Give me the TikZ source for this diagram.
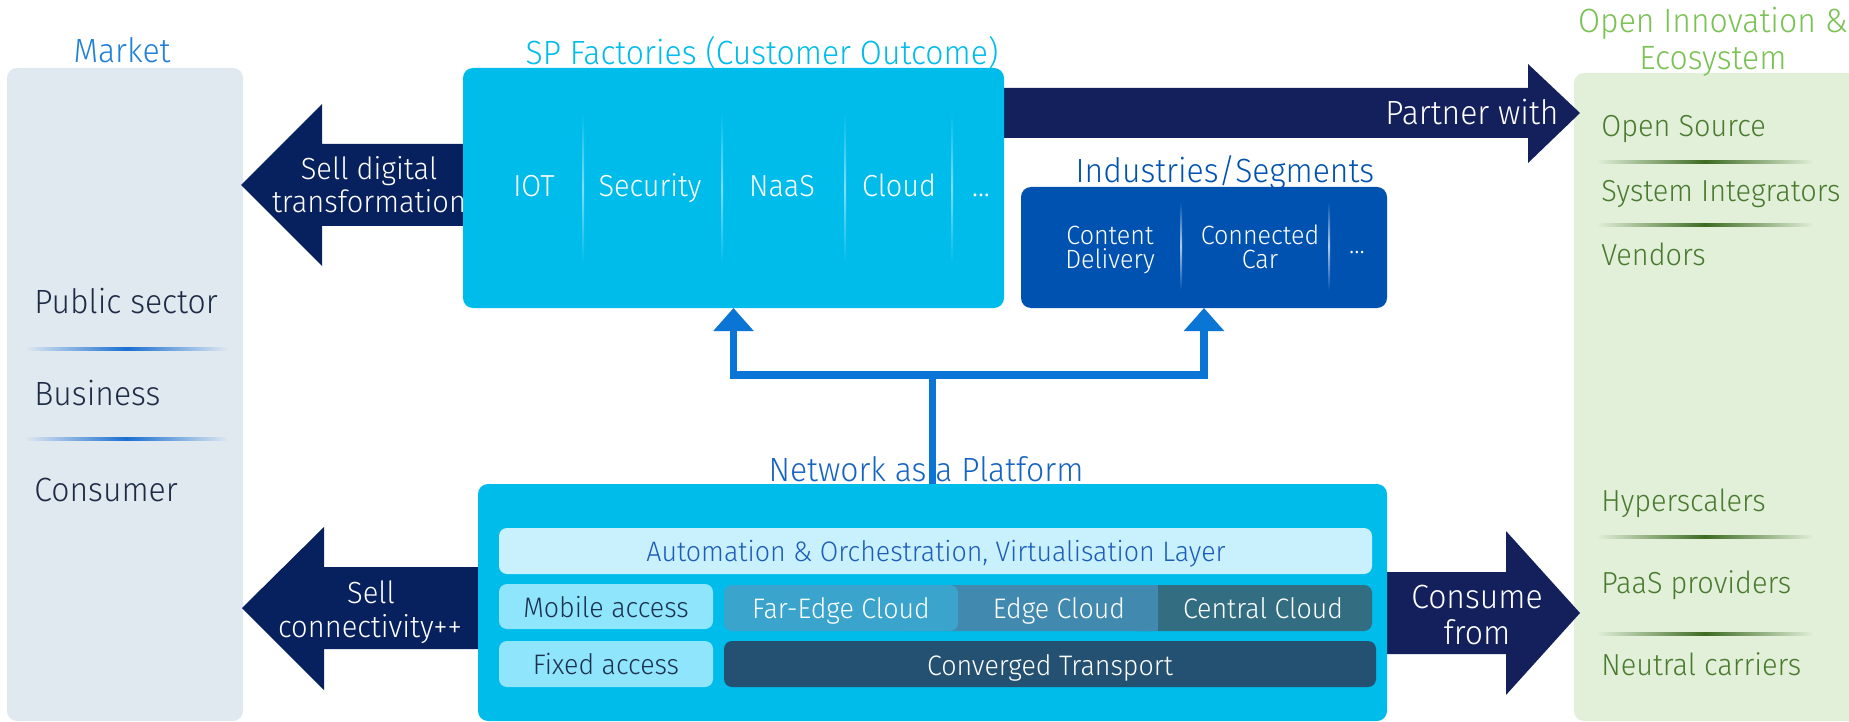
\documentclass[tikz,border=0pt]{standalone}
\usepackage{fontspec}
\setmainfont{Fira Sans Light}[FakeStretch=0.95]
\usetikzlibrary{arrows.meta}

% palette
\definecolor{marketbg}{HTML}{E0E8F0}
\definecolor{marketfg}{HTML}{1E2B45}
\definecolor{markettitle}{HTML}{1F80D8}
\definecolor{cyanbox}{HTML}{00BCEB}
\definecolor{navyL}{HTML}{07205E}
\definecolor{navyR}{HTML}{13205C}
\definecolor{indbox}{HTML}{0052B0}
\definecolor{naaptitle}{HTML}{1664C2}
\definecolor{connblue}{HTML}{0A75D5}
\definecolor{autobg}{HTML}{C9F1FD}
\definecolor{autofg}{HTML}{1C5DB8}
\definecolor{accbg}{HTML}{8FE6FC}
\definecolor{accfg}{HTML}{1D3050}
\definecolor{faredge}{HTML}{3AA4CC}
\definecolor{edgec}{HTML}{4289AF}
\definecolor{centralc}{HTML}{336D81}
\definecolor{transport}{HTML}{245172}
\definecolor{greenbg}{HTML}{E2F0DA}
\definecolor{greentitle}{HTML}{7AC253}
\definecolor{greenfg}{HTML}{4A7A2F}
\definecolor{greenline}{HTML}{3D6B22}
\definecolor{bluesep}{HTML}{1A6FD2}

\newcommand\fbig{\fontsize{16.8}{20}\selectfont}
\newcommand\farr{\fontsize{15.3}{18}\selectfont}
\newcommand\fmid{\fontsize{15.2}{18}\selectfont}
\newcommand\frow{\fontsize{14.1}{17}\selectfont}
\newcommand\fsmall{\fontsize{13.2}{16}\selectfont}

\tikzset{
  panel/.style={rounded corners=5pt, inner sep=0pt, outer sep=0pt, anchor=north west},
  cell/.style={rounded corners=4pt, inner sep=0pt, outer sep=0pt, anchor=north west},
  lbl/.style={inner sep=0pt, anchor=base},
  lblw/.style={inner sep=0pt, anchor=base west},
  mkitem/.style={lblw, font=\fbig, text=marketfg},
  gritem/.style={lblw, font=\fmid, text=greenfg},
  arrowtxt/.style={lbl, font=\farr, text=white},
  spitem/.style={lbl, font=\fmid, text=white},
  rowtxt/.style={lbl, font=\frow},
  conn/.style={draw=connblue, line width=3.75pt, -{Triangle[width=19.5pt,length=11.5pt]}},
}

\begin{document}
\begin{tikzpicture}[x=0.5pt,y=-0.5pt]
\useasboundingbox (0,0) rectangle (1849,722);
\fill[white] (0,0) rectangle (1849,722);

% ---------- Market column ----------
\node[panel, fill=marketbg, minimum width=118pt, minimum height=326.5pt] (market) at (7,68) {};
\node[lbl, font=\fbig, text=markettitle] (markettitle) at (122,63) {Market};
\node[mkitem] (public) at (34,313) {Public sector};
\node[mkitem] (business) at (34,405) {Business};
\node[mkitem] (consumer) at (34,501) {Consumer};
\shade[left color=marketbg, right color=marketbg, middle color=bluesep] (25,347.5) rectangle (228,350.5);
\shade[left color=marketbg, right color=marketbg, middle color=bluesep] (25,437.5) rectangle (228,440.5);

% ---------- Open innovation column ----------
\node[panel, fill=greenbg, minimum width=150pt, minimum height=324pt] (eco) at (1574,73) {};
\node[lbl, font=\fbig, text=greentitle] (ecotitleA) at (1713,33) {Open Innovation \&};
\node[lbl, font=\fbig, text=greentitle] (ecotitleB) at (1713,70) {Ecosystem};
\node[gritem] (opensrc) at (1601,137) {Open Source};
\node[gritem] (sysint) at (1601,202) {System Integrators};
\node[gritem] (vendors) at (1601,265) {Vendors};
\node[gritem] (hyper) at (1601,511) {Hyperscalers};
\node[gritem] (paas) at (1601,593) {PaaS providers};
\node[gritem] (neutral) at (1601,675) {Neutral carriers};
\foreach \yy in {162,225,537,634}
  \shade[left color=greenbg, right color=greenbg, middle color=greenline] (1596,\yy-1.5) rectangle (1814,\yy+1.5);

% ---------- block arrows ----------
\fill[navyL] (480,144) -- (322,144) -- (322,104) -- (241,185) -- (322,266) -- (322,226) -- (480,226) -- cycle;
\fill[navyR] (990,88) -- (1528,88) -- (1528,64) -- (1580,113) -- (1528,163) -- (1528,138) -- (990,138) -- cycle;
\fill[navyL] (495,567) -- (324,567) -- (324,527) -- (242,608) -- (324,690) -- (324,649) -- (495,649) -- cycle;
\fill[navyR] (1370,572) -- (1506,572) -- (1506,531) -- (1580,613) -- (1506,695) -- (1506,654) -- (1370,654) -- cycle;

% ---------- SP factories ----------
\node[panel, fill=cyanbox, minimum width=270.5pt, minimum height=120pt] (sp) at (463,68) {};
\node[lbl, font=\fbig, text=cyanbox] (sptitle) at (762,65) {SP Factories (Customer Outcome)};
\foreach \xx in {583,722,845,952}
  \shade[top color=cyanbox, bottom color=cyanbox, middle color=white!50!cyanbox] (\xx-1,113) rectangle (\xx+1,263);
\node[spitem] (iot) at (534,197) {IOT};
\node[spitem] (security) at (650,197) {Security};
\node[spitem] (naas) at (782,197) {NaaS};
\node[spitem] (cloud) at (899,197) {Cloud};
\node[spitem] (spmore) at (981,197) {...};

% ---------- industries / segments ----------
\node[panel, fill=indbox, minimum width=183pt, minimum height=60.5pt] (ind) at (1021,187) {};
\node[lbl, font=\fbig, text=indbox] (indtitle) at (1225,183) {Industries/Segments};
\foreach \xx in {1181,1329}
  \shade[top color=indbox, bottom color=indbox, middle color=white!70!indbox] (\xx-1,202) rectangle (\xx+1,290);
\node[lbl, font=\fsmall, text=white] (contentA) at (1110,244) {Content};
\node[lbl, font=\fsmall, text=white] (contentB) at (1110,269) {Delivery};
\node[lbl, font=\fsmall, text=white] (carA) at (1260,244) {Connected};
\node[lbl, font=\fsmall, text=white] (carB) at (1260,269) {Car};
\node[lbl, font=\fsmall, text=white] (indmore) at (1357,253) {...};

% ---------- arrow captions ----------
\node[arrowtxt] (sdtA) at (369,180) {Sell digital};
\node[arrowtxt] (sdtB) at (369,213) {transformation};
\node[lbl, anchor=base east, font=\fbig, text=white] (partner) at (1559,125) {Partner with};
\node[arrowtxt] (scA) at (371,603) {Sell};
\node[arrowtxt] (scB) at (370,637) {connectivity++};
\node[lbl, font=\fbig, text=white] (cfA) at (1477,608) {Consume};
\node[lbl, font=\fbig, text=white] (cfB) at (1477,644) {from};

% ---------- network as a platform ----------
\node[panel, fill=cyanbox, minimum width=454.5pt, minimum height=118.5pt] (naap) at (478,484) {};
\node[lbl, font=\fbig, text=naaptitle] (naaptitle) at (926,481) {Network as a Platform};

\node[cell, fill=autobg, minimum width=436.5pt, minimum height=23pt] (auto) at (499,528) {};
\node[rowtxt, text=autofg] (autotxt) at (936,561) {Automation \& Orchestration, Virtualisation Layer};

\node[cell, fill=accbg, minimum width=107pt, minimum height=22.5pt] (mobile) at (499,584) {};
\node[rowtxt, text=accfg] (mobiletxt) at (606,617) {Mobile access};
\node[cell, fill=accbg, minimum width=107pt, minimum height=23pt] (fixed) at (499,641) {};
\node[rowtxt, text=accfg] (fixedtxt) at (606,674) {Fixed access};

\node[cell, fill=centralc, minimum width=121pt, minimum height=23pt] (central) at (1130,585) {};
\fill[edgec] (1120,585) rectangle (1158,631);
\node[cell, fill=edgec, minimum width=130.5pt, minimum height=23pt] (edge) at (897,585) {};
\node[cell, fill=faredge, minimum width=117pt, minimum height=23pt] (far) at (724,585) {};
\node[rowtxt, text=white] (fartxt) at (841,618) {Far-Edge Cloud};
\node[rowtxt, text=white] (edgetxt) at (1059,618) {Edge Cloud};
\node[rowtxt, text=white] (centraltxt) at (1263,618) {Central Cloud};

\node[cell, fill=transport, minimum width=326pt, minimum height=23pt] (trans) at (724,641) {};
\node[rowtxt, text=white] (transtxt) at (1050,675) {Converged Transport};

% ---------- platform feeds the factories and segments ----------
\coordinate (split) at ([yshift=54.5pt]naap.north);
\draw[draw=connblue, line width=3.75pt] (naap.north) -- (split);
\draw[conn] (split) -| (sp.south);
\draw[conn] (split) -| (ind.south);
\end{tikzpicture}
\end{document}
